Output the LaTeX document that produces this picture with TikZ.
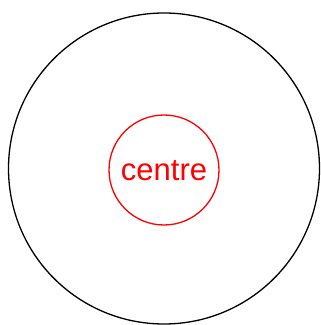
\documentclass[tikz,border=0pt]{standalone}
\usepackage{fontspec}
\setmainfont{Liberation Sans}
\begin{document}
\begin{tikzpicture}[x=1pt,y=1pt,
  outer/.style={draw=black,line width=1.3pt},
  inner/.style={draw=red,line width=1.3pt},
  lbl/.style={text=red,font=\fontsize{31}{36}\selectfont,inner sep=0pt}]
\useasboundingbox (0,0) rectangle (321,325);
\draw[outer] (164,156.5) circle (155.5);
\draw[inner] (164,155) circle (55);
\node[lbl,anchor=base] (c) at (164,145) {centre};
\end{tikzpicture}
\end{document}
